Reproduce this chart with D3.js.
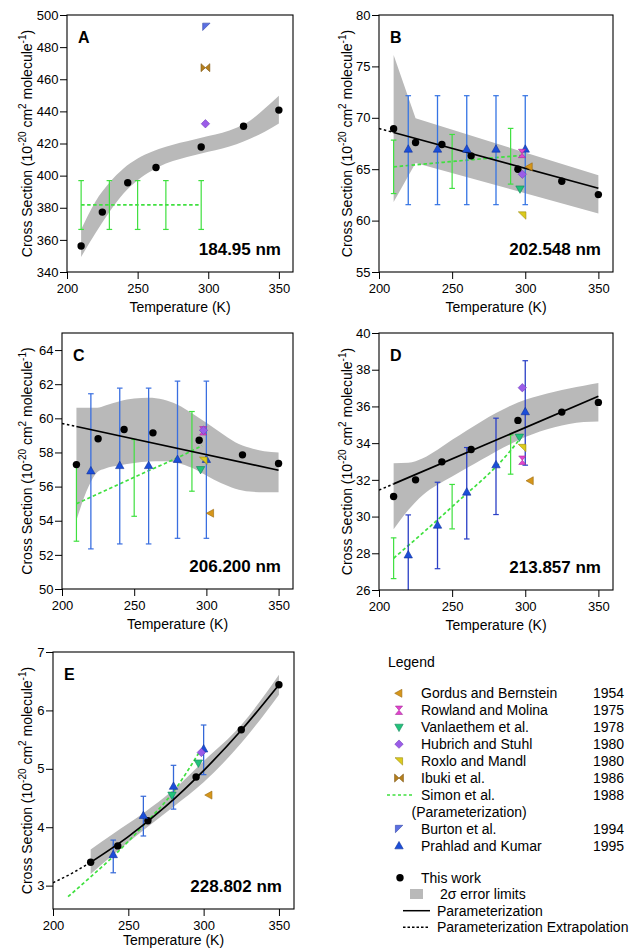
<!DOCTYPE html>
<html><head><meta charset="utf-8">
<script src="https://cdn.jsdelivr.net/npm/d3@7"></script>
<style>
body{margin:0;background:#fff;}
svg text{font-family:"Liberation Sans",Arial,Helvetica,sans-serif;fill:#000;}
</style></head><body>
<svg id="chart" width="635" height="948"></svg>
<script>
// ---------------- DATA ----------------
const panelIds = ["A","B","C","D","E"];
const wavelengths = ["184.95 nm","202.548 nm","206.200 nm","213.857 nm","228.802 nm"];
const xTickLabels = [200,250,300,350];
const yTicksA = [340,360,380,400,420,440,460,480,500];
const yTicksB = [55,60,65,70,75,80];
const yTicksC = [50,52,54,56,58,60,62,64];
const yTicksD = [26,28,30,32,34,36,38,40];
const yTicksE = [3,4,5,6,7];

// This work
const workT  = [210,225,243,263,295,325,350];
const workA  = [356.2,377.3,395.6,405.1,417.8,430.7,440.8];
const workB  = [68.93,67.60,67.40,66.30,65.00,63.83,62.53];
const workC  = [57.29,58.80,59.35,59.15,58.72,57.86,57.35];
const workD  = [31.09,32.00,32.98,33.65,35.24,35.69,36.22];
const workTE = [225,243,263,295,325,350];
const workE  = [3.40,3.68,4.11,4.86,5.67,6.44];

// 2-sigma error limits
const bandT   = [210,220,230,240,250,260,270,280,290,300,310,320,330,340,350];
const bandLoA = [349.4,363.9,377.4,388.8,397.1,403.0,407.5,410.4,412.7,414.8,416.9,419.6,423.1,427.3,432.5];
const bandHiA = [366.4,383.6,395.5,404.4,410.6,414.8,417.9,420.4,422.5,424.6,426.7,429.8,434.5,441.8,449.7];
const bandTB  = [210,225,350];
const bandLoB = [61.8,65.6,60.7];
const bandHiB = [76.1,69.95,64.4];
const bandTC  = [210,218.5,224.3,230,240,250,260,270,280,290,300,310,320,330,340,350];
const bandLoC = [54.03,56.02,56.84,57.06,57.25,57.39,57.47,57.49,57.39,57.10,56.65,56.21,55.88,55.71,55.67,55.67];
const bandHiC = [60.62,60.62,60.62,60.75,61.00,61.16,61.20,61.10,60.80,60.30,59.74,59.15,58.60,58.27,58.07,58.00];
const bandLoD = [29.31,30.36,31.18,31.73,32.18,32.64,33.09,33.55,33.96,34.33,34.64,34.87,35.04,35.15,35.18];
const bandHiD = [32.91,32.93,33.18,33.64,34.18,34.69,35.18,35.64,36.04,36.36,36.60,36.80,36.98,37.13,37.27];
const bandTE  = [225,240,260,280,300,325,350];
const bandLoE = [3.20,3.53,3.95,4.35,4.77,5.44,6.27];
const bandHiE = [3.62,3.89,4.24,4.64,5.13,5.75,6.61];

// Parameterization (solid) and extrapolation (dashed)
const paramT   = [210,350];
const paramB   = [68.57,63.15];
const paramC   = [59.52,56.96];
const paramD   = [31.78,36.55];
const extrapT  = [200,210];
const extrapB  = [68.96,68.57];
const extrapC  = [59.70,59.52];
const extrapD  = [31.44,31.78];
const paramTE  = [225,250,275,300,325,350];
const paramE   = [3.40,3.84,4.36,4.97,5.66,6.44];
const extrapTE = [200,212.5,225];
const extrapE  = [3.05,3.21,3.40];

// Simon et al. 1988 parameterization and error bars
const simonLineTA = [210,295];
const simonLineA  = [381.8,381.8];
const simonBarTA  = [210,230,250,270,295];
const simonLoA    = [366.5,366.5,366.5,366.5,366.5];
const simonHiA    = [396.9,396.9,396.9,396.9,396.9];
const simonLineT  = [210,250,290,297];
const simonLineB  = [65.23,65.75,66.25,66.33];
const simonLineC  = [55.00,56.55,58.10,58.40];
const simonLineD  = [27.73,30.54,33.60,34.30];
const simonBarT   = [210,250,290];
const simonLoB    = [62.63,63.13,63.55];
const simonHiB    = [67.83,68.38,68.97];
const simonLoC    = [52.80,54.26,55.73];
const simonHiC    = [57.20,58.76,60.40];
const simonLoD    = [26.62,29.33,32.31];
const simonHiD    = [28.84,31.75,34.45];
const simonLineTE = [210,225,240,260,280,297];
const simonLineE  = [2.81,3.15,3.50,4.03,4.61,5.28];

// Prahlad and Kumar 1995
const prahladT  = [220,240,260,280,300];
const prahladB  = [66.95,66.95,66.95,66.95,66.95];
const prahladLoB= [61.55,61.55,61.55,61.55,61.55];
const prahladHiB= [72.15,72.15,72.15,72.15,72.15];
const prahladC  = [56.92,57.23,57.23,57.59,57.59];
const prahladLoC= [52.35,52.64,52.64,52.97,52.97];
const prahladHiC= [61.44,61.77,61.77,62.18,62.18];
const prahladD  = [27.91,29.53,31.33,32.82,35.71];
const prahladLoD= [25.50,27.16,28.78,30.11,32.80];
const prahladHiD= [30.09,31.87,33.76,35.36,38.49];
const prahladTE = [240,260,280,300];
const prahladE  = [3.53,4.20,4.70,5.34];
const prahladLoE= [3.22,3.85,4.31,4.90];
const prahladHiE= [3.78,4.53,5.06,5.75];

// Single-point literature values [panel, T, value]
const gordus     = [["B",302.8,65.23],["C",303.0,54.44],["D",303.5,31.95],["E",303.6,4.55]];
const rowland    = [["B",297.8,66.53],["C",297.8,59.27],["D",298.0,33.07]];
const vanlaethem = [["B",296.4,63.08],["C",296.0,57.00],["D",296.0,34.33],["E",279.0,4.55],["E",296.5,5.10]];
const hubrich    = [["A",298.0,432.3],["B",298.0,64.51],["C",298.0,59.30],["D",298.0,37.02],["E",298.5,5.28]];
const roxlo      = [["B",298.0,60.52],["C",298.0,57.53],["D",298.0,33.75]];
const ibuki      = [["A",298.0,467.2]];
const burton     = [["A",298.6,492.7]];

// Legend
const legendNames = ["Gordus and Bernstein","Rowland and Molina","Vanlaethem et al.","Hubrich and Stuhl","Roxlo and Mandl","Ibuki et al.","Simon et al.","Burton et al.","Prahlad and Kumar"];
const legendYears = ["1954","1975","1978","1980","1980","1986","1988","1994","1995"];
const legendKeys  = ["gordus","rowland","vanlaethem","hubrich","roxlo","ibuki","simon","burton","prahlad"];

// ---------------- LAYOUT / STYLE ----------------
const frames = {A:[67,15,293,272],B:[379,15,613,272],C:[62,333,293,589],D:[379,333,613,590],E:[53,652,294,909]};
const yTitleX = {A:31.5,B:351.5,C:31.5,D:351.5,E:31.5};
const xTitleOffset = {A:39.5,B:39.5,C:39.5,D:39.5,E:36};
const xDomain = [200,360];
const GREEN = "#3fe03f", GREY = "#b9b9b9";
const blueBar = {B:"#3574e4",C:"#3a6fe0",D:"#2a3fc6",E:"#3468d8"};
const markerStyle = {
  gordus:    {d:"M-4.3,0L2.9,-4L2.9,4Z", fill:"#d6961a", stroke:"#9a6a10"},
  rowland:   {d:"M-3.6,-4.2L3.6,-4.2L0,0ZM-3.6,4.2L3.6,4.2L0,0Z", fill:"#e443cf", stroke:"#a02b95"},
  vanlaethem:{d:"M-4.2,-3L4.2,-3L0,4.4Z", fill:"#22c27a", stroke:"#12875a"},
  hubrich:   {d:"M0,-4.2L4.2,0L0,4.2L-4.2,0Z", fill:"#9b5ce8", stroke:"#7040b8"},
  roxlo:     {d:"M-4,-3.4L3.6,-3.4L3.6,4Z", fill:"#dccb1c", stroke:"#9a8a10"},
  ibuki:     {d:"M-4.4,-4L0,0L-4.4,4ZM4.4,-4L0,0L4.4,4Z", fill:"#b7801c", stroke:"#7a5410"},
  burton:    {d:"M-3.6,-3.6L3.8,-3.6L-3.6,3.8Z", fill:"#5b6fe2", stroke:"#3448a8"},
  prahlad:   {d:"M0,-4.4L4.2,3L-4.2,3Z", fill:"#1b4ed8", stroke:"#10309a"}
};

// tables built from arrays
const zip = (T,V) => T.map((t,k)=>({T:t,v:V[k]}));
const zipBand = (T,L,H) => T.map((t,k)=>({T:t,lo:L[k],hi:H[k]}));
const zipBar = (T,L,H,V) => T.map((t,k)=>({T:t,lo:L[k],hi:H[k],v:V?V[k]:null}));
const panels = {
  A:{yDomain:[340,500],yTicks:yTicksA,work:zip(workT,workA),band:zipBand(bandT,bandLoA,bandHiA),bandCurve:d3.curveMonotoneX,
     param:null,extrap:null,simonLine:zip(simonLineTA,simonLineA),simonBars:zipBar(simonBarTA,simonLoA,simonHiA),prahlad:[]},
  B:{yDomain:[55,80],yTicks:yTicksB,work:zip(workT,workB),band:zipBand(bandTB,bandLoB,bandHiB),bandCurve:d3.curveLinear,
     param:zip(paramT,paramB),extrap:zip(extrapT,extrapB),simonLine:zip(simonLineT,simonLineB),simonBars:zipBar(simonBarT,simonLoB,simonHiB),
     prahlad:zipBar(prahladT,prahladLoB,prahladHiB,prahladB)},
  C:{yDomain:[50,65],yTicks:yTicksC,work:zip(workT,workC),band:zipBand(bandTC,bandLoC,bandHiC),bandCurve:d3.curveMonotoneX,
     param:zip(paramT,paramC),extrap:zip(extrapT,extrapC),simonLine:zip(simonLineT,simonLineC),simonBars:zipBar(simonBarT,simonLoC,simonHiC),
     prahlad:zipBar(prahladT,prahladLoC,prahladHiC,prahladC)},
  D:{yDomain:[26,40],yTicks:yTicksD,work:zip(workT,workD),band:zipBand(bandT,bandLoD,bandHiD),bandCurve:d3.curveMonotoneX,
     param:zip(paramT,paramD),extrap:zip(extrapT,extrapD),simonLine:zip(simonLineT,simonLineD),simonBars:zipBar(simonBarT,simonLoD,simonHiD),
     prahlad:zipBar(prahladT,prahladLoD,prahladHiD,prahladD)},
  E:{yDomain:[2.6,7],yTicks:yTicksE,work:zip(workTE,workE),band:zipBand(bandTE,bandLoE,bandHiE),bandCurve:d3.curveMonotoneX,
     param:zip(paramTE,paramE),extrap:zip(extrapTE,extrapE),simonLine:zip(simonLineTE,simonLineE),simonBars:[],
     prahlad:zipBar(prahladTE,prahladLoE,prahladHiE,prahladE)}
};
const singles = {gordus,rowland,vanlaethem,hubrich,roxlo,ibuki,burton};

// ---------------- DRAW ----------------
const svg = d3.select("#chart");
const defs = svg.append("defs");

function marker(g, key, cx, cy){
  const s = markerStyle[key];
  g.append("path").attr("d",s.d).attr("transform",`translate(${cx},${cy})`)
    .attr("fill",s.fill).attr("stroke",s.stroke).attr("stroke-width",0.6);
}
function errBar(g, x, y, d, color, w){
  g.append("line").attr("x1",x(d.T)).attr("x2",x(d.T)).attr("y1",y(d.lo)).attr("y2",y(d.hi))
   .attr("stroke",color).attr("stroke-width",w);
  [d.lo,d.hi].forEach(v=>{
    g.append("line").attr("x1",x(d.T)-2.8).attr("x2",x(d.T)+2.8).attr("y1",y(v)).attr("y2",y(v))
     .attr("stroke",color).attr("stroke-width",1.2);
  });
}

panelIds.forEach((id,i)=>{
  const [l,t,r,b] = frames[id];
  const P = panels[id];
  const x = d3.scaleLinear().domain(xDomain).range([l,r]);
  const y = d3.scaleLinear().domain(P.yDomain).range([b,t]);
  const g = svg.append("g");
  defs.append("clipPath").attr("id","clip"+id).append("rect")
    .attr("x",l).attr("y",t).attr("width",r-l).attr("height",b-t);
  const pg = g.append("g").attr("clip-path",`url(#clip${id})`);

  // band
  pg.append("path").datum(P.band)
    .attr("d",d3.area().x(d=>x(d.T)).y0(d=>y(d.lo)).y1(d=>y(d.hi)).curve(P.bandCurve))
    .attr("fill",GREY);

  // Simon
  pg.append("path").datum(P.simonLine)
    .attr("d",d3.line().x(d=>x(d.T)).y(d=>y(d.v)).curve(d3.curveMonotoneX))
    .attr("fill","none").attr("stroke",GREEN).attr("stroke-width",1.7).attr("stroke-dasharray","3.5,2.5");
  P.simonBars.forEach(d=>errBar(pg,x,y,d,GREEN,1.2));

  // Prahlad error bars
  P.prahlad.forEach(d=>errBar(pg,x,y,d,blueBar[id],1.3));

  // parameterization
  if(P.extrap){
    pg.append("path").datum(P.extrap)
      .attr("d",d3.line().x(d=>x(d.T)).y(d=>y(d.v)).curve(d3.curveMonotoneX))
      .attr("fill","none").attr("stroke","#000").attr("stroke-width",1.5).attr("stroke-dasharray","2.5,2.5");
  }
  if(P.param){
    pg.append("path").datum(P.param)
      .attr("d",d3.line().x(d=>x(d.T)).y(d=>y(d.v)).curve(d3.curveMonotoneX))
      .attr("fill","none").attr("stroke","#000").attr("stroke-width",1.7);
  }

  // this work
  P.work.forEach(d=>{
    pg.append("circle").attr("cx",x(d.T)).attr("cy",y(d.v)).attr("r",3.7).attr("fill","#000");
  });

  // Prahlad triangles
  P.prahlad.forEach(d=>marker(pg,"prahlad",x(d.T),y(d.v)));

  // single literature points
  Object.keys(singles).forEach(key=>{
    singles[key].filter(p=>p[0]===id).forEach(p=>marker(pg,key,x(p[1]),y(p[2])));
  });

  // axes
  const ax = g.append("g").attr("transform",`translate(0,${b})`)
    .call(d3.axisBottom(x).tickValues(xTickLabels).tickFormat(d3.format("d")).tickSize(7).tickPadding(4.3).tickSizeOuter(0));
  const ay = g.append("g").attr("transform",`translate(${l},0)`)
    .call(d3.axisLeft(y).tickValues(P.yTicks).tickFormat(d3.format("d")).tickSize(7).tickPadding(1.5).tickSizeOuter(0));
  [ax,ay].forEach(a=>{
    a.attr("font-family",null).attr("font-size",null);
    a.selectAll("text").style("font-size","13px");
    a.selectAll("line").attr("stroke","#000");
    a.select(".domain").remove();
  });
  // frame
  g.append("rect").attr("x",l).attr("y",t).attr("width",r-l).attr("height",b-t)
    .attr("fill","none").attr("stroke","#000").attr("stroke-width",1.1);

  // panel letter and wavelength
  g.append("text").attr("x",l+11).attr("y",t+28).style("font-size","16px").style("font-weight","bold").text(id);
  g.append("text").attr("x",r-12).attr("y",b-17).attr("text-anchor","end")
    .style("font-size","17px").style("font-weight","bold").text(wavelengths[i]);

  // axis titles
  g.append("text").attr("x",(l+r)/2).attr("y",b+xTitleOffset[id]).attr("text-anchor","middle")
    .style("font-size","14px").text("Temperature (K)");
  const yt = g.append("text").attr("transform",`translate(${yTitleX[id]},${(t+b)/2}) rotate(-90)`)
    .attr("text-anchor","middle").style("font-size","14px");
  yt.append("tspan").text("Cross Section (10");
  yt.append("tspan").attr("dy",-6).style("font-size","10px").text("-20");
  yt.append("tspan").attr("dy",6).text(" cm");
  yt.append("tspan").attr("dy",-6).style("font-size","10px").text("2");
  yt.append("tspan").attr("dy",6).text(" molecule");
  yt.append("tspan").attr("dy",-6).style("font-size","10px").text("-1");
  yt.append("tspan").attr("dy",6).text(")");
});

// ---------------- LEGEND ----------------
const lg = svg.append("g");
const fs = "14px";
lg.append("text").attr("x",388).attr("y",662).attr("dy","0.35em").style("font-size",fs).text("Legend");
const rowY = k => 693.3 + k*16.95;
legendKeys.forEach((key,k)=>{
  const row = k<=6 ? k : k+1;
  const cy = rowY(row);
  if(key==="simon"){
    lg.append("line").attr("x1",387).attr("x2",413).attr("y1",cy).attr("y2",cy)
      .attr("stroke",GREEN).attr("stroke-width",1.5).attr("stroke-dasharray","3,2.5");
  } else {
    marker(lg,key,399,cy);
  }
  lg.append("text").attr("x",421).attr("y",cy).attr("dy","0.35em").style("font-size",fs).text(legendNames[k]);
  lg.append("text").attr("x",593).attr("y",cy).attr("dy","0.35em").style("font-size",fs).text(legendYears[k]);
});
lg.append("text").attr("x",411.5).attr("y",rowY(7)).attr("dy","0.35em").style("font-size",fs).text("(Parameterization)");

lg.append("circle").attr("cx",400).attr("cy",877.7).attr("r",3.7).attr("fill","#000");
lg.append("text").attr("x",421).attr("y",877.7).attr("dy","0.35em").style("font-size",fs).text("This work");
lg.append("rect").attr("x",410).attr("y",889).attr("width",13).attr("height",10).attr("fill",GREY);
lg.append("text").attr("x",440).attr("y",894).attr("dy","0.35em").style("font-size",fs).text("2σ error limits");
lg.append("line").attr("x1",403).attr("x2",430).attr("y1",910.7).attr("y2",910.7).attr("stroke","#000").attr("stroke-width",1.5);
lg.append("text").attr("x",437).attr("y",910.7).attr("dy","0.35em").style("font-size",fs).text("Parameterization");
lg.append("line").attr("x1",403).attr("x2",430).attr("y1",927.3).attr("y2",927.3).attr("stroke","#000").attr("stroke-width",1.5).attr("stroke-dasharray","2.5,2");
lg.append("text").attr("x",437).attr("y",927.3).attr("dy","0.35em").style("font-size",fs).text("Parameterization Extrapolation");
</script>
</body></html>
